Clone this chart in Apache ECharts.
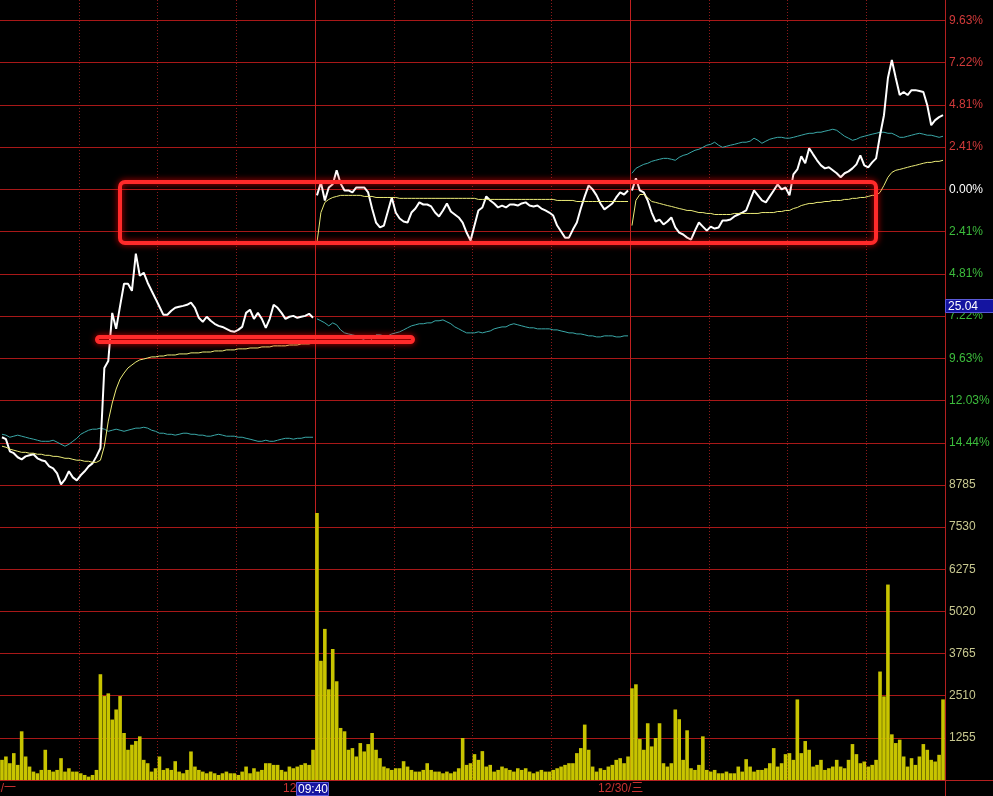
<!DOCTYPE html>
<html><head><meta charset="utf-8">
<script src="https://cdn.jsdelivr.net/npm/echarts@6/dist/echarts.min.js"></script>
<style>html,body{margin:0;padding:0;background:#000;}#c{width:993px;height:796px;}</style>
</head><body><div id="c"></div>
<script>
// ---- data (percent change vs reference close; volume in lots), 3-minute samples, 80 per day ----
const dayLabels = ['12/28/一', '12/29/二', '12/30/三'];
const priceTickLabels = ['', '14.44%', '12.03%', '9.63%', '7.22%', '4.81%', '2.41%', '0.00%', '2.41%', '4.81%', '7.22%', '9.63%'];
const crossPrice = '25.04';
const crossTime = '09:40';

const white1 = [-14.13,-14.24,-14.93,-15.04,-15.27,-15.39,-15.22,-15.16,-15.10,-15.33,
 -15.44,-15.50,-15.79,-15.90,-16.19,-16.82,-16.53,-16.07,-16.42,-16.59,
 -16.30,-16.07,-15.79,-15.62,-15.22,-14.76,-10.18,-9.78,-7.04,-7.95,
 -6.64,-5.38,-5.38,-5.78,-3.66,-4.92,-4.75,-5.32,-5.78,-6.23,
 -6.69,-7.15,-7.15,-6.92,-6.75,-6.69,-6.64,-6.58,-6.46,-6.75,
 -7.32,-7.55,-7.26,-7.49,-7.66,-7.78,-7.84,-7.95,-8.07,-8.12,
 -8.01,-7.84,-7.04,-6.86,-7.38,-7.04,-7.38,-7.89,-7.38,-6.58,
 -6.75,-7.04,-7.38,-7.26,-7.21,-7.32,-7.26,-7.21,-7.09,-7.32];
const white2 = [-0.34,0.40,-0.63,0.11,0.29,1.09,0.34,-0.06,-0.06,-0.17,
 0.11,0.11,0.11,-0.17,-1.09,-1.89,-2.17,-2.06,-1.26,-0.46,
 -1.32,-1.66,-1.83,-1.89,-1.32,-1.09,-0.74,-0.86,-0.86,-0.97,
 -1.32,-1.54,-1.20,-0.80,-1.26,-1.43,-1.60,-1.89,-2.46,-2.92,
 -2.06,-1.20,-1.03,-0.40,-0.63,-0.80,-1.03,-0.92,-1.03,-0.86,
 -0.86,-0.92,-0.80,-0.74,-0.92,-0.97,-0.92,-1.09,-1.20,-1.32,
 -1.49,-2.06,-2.40,-2.75,-2.75,-2.29,-1.89,-1.09,-0.40,0.23,
 0.00,-0.34,-0.80,-1.14,-0.97,-0.80,-0.46,-0.17,-0.29,-0.06];
const white3 = [-0.06,0.63,-0.06,-0.17,-0.63,-1.32,-1.83,-1.72,-2.00,-1.83,
 -1.60,-2.17,-2.46,-2.57,-2.75,-2.86,-2.35,-1.89,-2.12,-2.35,
 -2.12,-2.23,-2.17,-1.77,-1.77,-1.72,-1.54,-1.43,-1.32,-1.20,
 -0.63,-0.06,-0.34,-0.63,-0.74,-0.40,-0.06,0.29,0.00,0.11,
 -0.34,0.86,1.14,1.89,1.49,2.35,2.00,1.66,1.37,1.20,
 1.26,1.09,0.92,0.69,0.92,1.03,1.20,1.43,1.94,1.37,
 1.26,1.54,1.77,3.09,4.23,6.35,7.38,6.35,5.38,5.55,
 5.38,5.66,5.66,5.61,5.55,4.80,3.66,3.95,4.12,4.23];

const avg1 = [-14.64,-14.70,-14.81,-14.87,-14.93,-14.99,-14.99,-15.04,-15.04,-15.10,
 -15.10,-15.16,-15.16,-15.22,-15.22,-15.27,-15.33,-15.33,-15.39,-15.44,
 -15.44,-15.50,-15.50,-15.56,-15.56,-15.44,-14.64,-13.21,-12.18,-11.38,
 -10.81,-10.47,-10.18,-10.01,-9.84,-9.72,-9.67,-9.61,-9.55,-9.55,
 -9.50,-9.50,-9.44,-9.44,-9.44,-9.38,-9.38,-9.38,-9.32,-9.32,
 -9.32,-9.27,-9.27,-9.27,-9.21,-9.21,-9.21,-9.15,-9.15,-9.15,
 -9.09,-9.09,-9.09,-9.04,-9.04,-9.04,-8.98,-8.98,-8.98,-8.92,
 -8.92,-8.92,-8.92,-8.87,-8.87,-8.87,-8.81,-8.81,-8.81,-8.75];
const avg2 = [-3.03,-1.32,-0.74,-0.57,-0.46,-0.40,-0.34,-0.34,-0.34,-0.34,
 -0.34,-0.34,-0.40,-0.40,-0.40,-0.46,-0.46,-0.46,-0.46,-0.46,
 -0.46,-0.51,-0.51,-0.51,-0.51,-0.51,-0.51,-0.51,-0.51,-0.51,
 -0.51,-0.51,-0.51,-0.51,-0.51,-0.51,-0.51,-0.51,-0.51,-0.51,
 -0.51,-0.57,-0.57,-0.57,-0.57,-0.57,-0.57,-0.57,-0.57,-0.57,
 -0.57,-0.57,-0.57,-0.57,-0.57,-0.57,-0.57,-0.57,-0.57,-0.57,
 -0.57,-0.63,-0.63,-0.63,-0.63,-0.63,-0.69,-0.69,-0.69,-0.69,
 -0.69,-0.69,-0.69,-0.69,-0.69,-0.69,-0.69,-0.69,-0.69,-0.69];
const avg3 = [-2.06,-0.63,-0.29,-0.29,-0.46,-0.69,-0.74,-0.80,-0.86,-0.92,
 -0.97,-1.03,-1.09,-1.14,-1.20,-1.20,-1.26,-1.32,-1.32,-1.37,
 -1.37,-1.43,-1.43,-1.43,-1.43,-1.43,-1.37,-1.37,-1.37,-1.37,
 -1.37,-1.37,-1.37,-1.32,-1.32,-1.32,-1.32,-1.26,-1.26,-1.20,
 -1.20,-1.09,-1.03,-0.92,-0.86,-0.80,-0.80,-0.74,-0.74,-0.69,
 -0.69,-0.63,-0.63,-0.63,-0.57,-0.57,-0.51,-0.51,-0.46,-0.46,
 -0.40,-0.34,-0.34,-0.17,0.23,0.69,0.97,1.09,1.14,1.20,
 1.26,1.32,1.37,1.43,1.49,1.54,1.54,1.60,1.60,1.66];

const idx1 = [-13.96,-14.01,-14.13,-14.07,-14.01,-14.07,-14.13,-14.19,-14.24,-14.30,
 -14.36,-14.36,-14.36,-14.30,-14.41,-14.53,-14.64,-14.53,-14.36,-14.19,
 -13.96,-13.84,-13.73,-13.67,-13.67,-13.61,-13.67,-13.79,-13.73,-13.67,
 -13.73,-13.79,-13.73,-13.67,-13.61,-13.61,-13.56,-13.61,-13.73,-13.79,
 -13.90,-13.90,-13.96,-13.96,-14.01,-13.96,-13.90,-13.90,-13.96,-13.96,
 -14.01,-14.01,-14.07,-14.07,-14.01,-13.96,-14.01,-14.07,-14.07,-14.07,
 -14.13,-14.13,-14.19,-14.24,-14.30,-14.36,-14.36,-14.30,-14.36,-14.36,
 -14.30,-14.24,-14.19,-14.19,-14.24,-14.19,-14.19,-14.13,-14.13,-14.13];
const idx2 = [-7.38,-7.49,-7.61,-7.78,-7.61,-7.72,-8.01,-8.18,-8.24,-8.29,
 -8.35,-8.47,-8.58,-8.75,-8.52,-8.29,-8.29,-8.35,-8.35,-8.24,
 -8.18,-8.12,-8.01,-7.89,-7.78,-7.72,-7.66,-7.66,-7.61,-7.61,
 -7.49,-7.49,-7.44,-7.55,-7.66,-7.84,-7.95,-8.07,-8.18,-8.18,
 -8.18,-8.12,-8.18,-8.12,-8.07,-7.95,-7.89,-7.84,-7.84,-7.72,
 -7.66,-7.72,-7.78,-7.84,-7.89,-7.89,-7.95,-7.95,-7.95,-7.95,
 -8.01,-8.01,-8.07,-8.12,-8.18,-8.18,-8.24,-8.24,-8.29,-8.35,
 -8.35,-8.41,-8.41,-8.35,-8.35,-8.35,-8.41,-8.41,-8.35,-8.35];
const idx3 = [0.92,1.20,1.32,1.43,1.49,1.60,1.66,1.72,1.77,1.77,
 1.72,1.66,1.83,1.94,2.00,2.12,2.23,2.29,2.40,2.52,
 2.57,2.69,2.52,2.40,2.46,2.52,2.57,2.63,2.69,2.69,
 2.75,2.92,2.80,2.63,2.75,2.86,2.92,2.97,2.97,2.92,
 2.92,2.97,3.03,3.09,3.15,3.20,3.20,3.26,3.26,3.32,
 3.37,3.43,3.37,3.20,3.03,2.92,2.80,2.86,2.97,3.03,
 3.09,3.15,3.20,3.26,3.26,3.20,3.20,3.09,2.97,2.97,
 3.03,3.09,3.15,3.20,3.15,3.09,3.09,3.03,2.97,3.03];

const vol1 = [600,700,500,800,450,1450,700,400,250,200,
 300,900,300,250,300,650,250,350,250,250,
 200,150,100,150,300,3150,2500,2580,1800,2100,
 2500,1400,900,1050,1160,1300,600,500,250,350,
 700,300,350,300,560,250,200,300,850,400,
 300,250,200,250,200,150,200,250,200,200,
 150,250,400,200,350,250,300,500,500,450,
 450,300,250,400,350,400,450,500,450,900];
const vol2 = [7950,3550,4500,2700,3900,2940,1550,1450,900,950,
 700,1100,850,1070,1400,900,650,400,350,300,
 350,350,560,400,300,250,250,300,500,300,
 250,250,200,250,200,250,350,1250,450,500,
 770,600,860,400,450,250,300,400,350,300,
 250,350,300,350,250,200,250,300,250,250,
 300,350,400,450,500,500,800,950,1650,900,
 400,250,350,300,400,450,600,650,500,700];
const vol3 = [2730,2850,1220,900,1690,1000,1250,1690,500,400,
 500,2100,1810,600,1480,350,300,450,1300,300,
 250,300,200,200,250,200,200,400,250,620,
 400,250,300,300,350,500,950,400,500,770,
 800,600,2400,800,1160,900,400,450,600,300,
 350,400,600,400,350,600,1070,770,500,550,
 400,450,600,3230,2490,5820,1360,1100,1200,700,
 400,650,450,700,1070,900,600,550,750,2400];

// ---- build series data: minute position within the 3-day session (240 min per day) ----
const DAY_MIN = 240, SAMPLE_MIN = 3;
function build(days, withBreaks) {
  const out = [];
  days.forEach((arr, d) => {
    arr.forEach((v, k) => out.push([d * DAY_MIN + k * SAMPLE_MIN + SAMPLE_MIN / 2, v]));
    if (withBreaks) out.push([d * DAY_MIN + DAY_MIN, '-']);
  });
  return out;
}
const PSTEP = 2.4075;
const FONT = "'Liberation Sans', Arial, 'Noto Sans CJK SC', sans-serif";
const GRID_RED = '#a81818';

const chart = echarts.init(document.getElementById('c'), null, {renderer: 'canvas'});
chart.setOption({
  animation: false,
  backgroundColor: '#000000',
  grid: [
    {left: 0, width: 945, top: 20.5, height: 464.5},
    {left: 0, width: 945, top: 485, height: 295},
    {left: 0, width: 945, top: 0, height: 780}
  ],
  xAxis: [
    {gridIndex: 0, type: 'value', min: 0, max: 720, show: false},
    {gridIndex: 1, type: 'value', min: 0, max: 720, show: false},
    {gridIndex: 2, type: 'value', min: 0, max: 720, interval: 60, position: 'bottom',
      axisLine: {show: false}, axisTick: {show: false}, axisLabel: {show: false},
      splitLine: {show: true, showMinLine: false, showMaxLine: false, lineStyle: {color: '#8c1a1a', type: [1, 2], width: 1}}},
    {gridIndex: 2, type: 'value', min: 0, max: 720, interval: 240, position: 'top',
      axisLine: {show: false}, axisTick: {show: false}, axisLabel: {show: false},
      splitLine: {show: true, showMinLine: false, showMaxLine: false, lineStyle: {color: '#c02020', width: 1}}}
  ],
  yAxis: [
    {gridIndex: 0, type: 'value', position: 'right', min: -7 * PSTEP, max: 4 * PSTEP, interval: PSTEP,
      axisLine: {show: false}, axisTick: {show: false},
      splitLine: {show: true, lineStyle: {color: GRID_RED, width: 1}},
      axisLabel: {margin: 4, fontSize: 12, fontFamily: FONT,
        formatter: v => { const i = Math.round(v / PSTEP) + 7; return priceTickLabels[i] || ''; },
        color: v => { const k = Math.round(v / PSTEP); return k > 0 ? '#d23a3a' : (k < 0 ? '#3cbc3c' : '#ffffff'); }
      }},
    {gridIndex: 1, type: 'value', position: 'right', min: 0, max: 8785, interval: 1255,
      axisLine: {show: false}, axisTick: {show: false},
      splitLine: {show: true, lineStyle: {color: GRID_RED, width: 1}},
      axisLabel: {margin: 4, fontSize: 12, fontFamily: FONT, color: '#c8c890', showMinLabel: false,
        formatter: v => String(Math.round(v))}},
    {gridIndex: 2, type: 'value', min: 0, max: 1, show: false}
  ],
  series: [
    {type: 'bar', xAxisIndex: 1, yAxisIndex: 1, data: build([vol1, vol2, vol3], false),
      barWidth: 3.6, itemStyle: {color: '#c8c400'}, silent: true},
    {type: 'line', xAxisIndex: 0, yAxisIndex: 0, data: build([idx1, idx2, idx3], true),
      showSymbol: false, connectNulls: false, lineStyle: {color: '#3aa8a8', width: 1}, silent: true},
    {type: 'line', xAxisIndex: 0, yAxisIndex: 0, data: build([white1, white2, white3], true),
      showSymbol: false, connectNulls: false, lineStyle: {color: '#ffffff', width: 2}, silent: true},
    {type: 'line', xAxisIndex: 0, yAxisIndex: 0, data: build([avg1, avg2, avg3], true),
      showSymbol: false, connectNulls: false, lineStyle: {color: '#ecec78', width: 1}, silent: true}
  ],
  graphic: {elements: [
    {type: 'line', z: 50, shape: {x1: 945.5, y1: 0, x2: 945.5, y2: 796}, style: {stroke: '#b42020', lineWidth: 1}},
    {type: 'line', z: 50, shape: {x1: 0, y1: 780.5, x2: 993, y2: 780.5}, style: {stroke: '#b42020', lineWidth: 1}},
    {type: 'rect', z: 100, shape: {x: 120, y: 182, width: 756, height: 61, r: 5},
      style: {fill: 'none', stroke: '#ff2a2a', lineWidth: 4, shadowBlur: 6, shadowColor: 'rgba(255,0,0,0.8)'}},
    {type: 'rect', z: 100, shape: {x: 97, y: 337, width: 316, height: 5, r: 3},
      style: {fill: 'none', stroke: '#ff2a2a', lineWidth: 4, shadowBlur: 6, shadowColor: 'rgba(255,0,0,0.8)'}},
    {type: 'text', z: 60, x: 16, y: 789, style: {text: dayLabels[0], fill: '#c83232', font: '12px ' + FONT, align: 'right', verticalAlign: 'middle'}},
    {type: 'text', z: 60, x: 283, y: 789, style: {text: dayLabels[1], fill: '#c83232', font: '12px ' + FONT, align: 'left', verticalAlign: 'middle'}},
    {type: 'text', z: 60, x: 598, y: 789, style: {text: dayLabels[2], fill: '#c83232', font: '12px ' + FONT, align: 'left', verticalAlign: 'middle'}},
    {type: 'rect', z: 70, shape: {x: 296.5, y: 782.5, width: 32, height: 13}, style: {fill: '#1414a0', stroke: '#5a5ad8', lineWidth: 1}},
    {type: 'text', z: 71, x: 298, y: 789.5, style: {text: crossTime, fill: '#ffffff', font: '12px ' + FONT, align: 'left', verticalAlign: 'middle'}},
    {type: 'rect', z: 70, shape: {x: 945.5, y: 299.5, width: 48, height: 13}, style: {fill: '#1414a0', stroke: '#5a5ad8', lineWidth: 1}},
    {type: 'text', z: 71, x: 948, y: 306.5, style: {text: crossPrice, fill: '#ffffff', font: '12px ' + FONT, align: 'left', verticalAlign: 'middle'}}
  ]}
});
</script>
</body></html>
